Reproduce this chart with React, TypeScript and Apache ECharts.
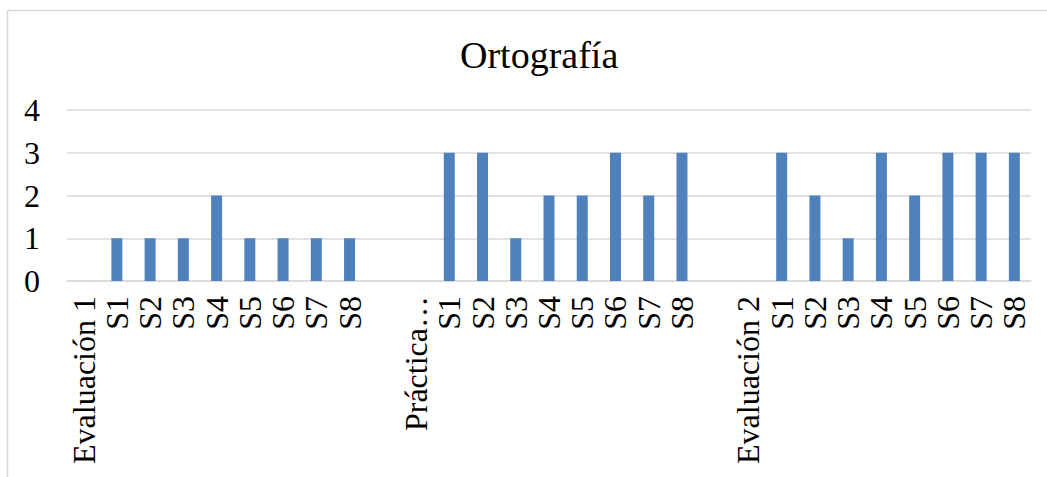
import React, { useEffect, useRef } from "react";
import * as echarts from "echarts";

const categories = [
  "Evaluación 1", "S1", "S2", "S3", "S4", "S5", "S6", "S7", "S8", "",
  "Práctica…", "S1", "S2", "S3", "S4", "S5", "S6", "S7", "S8", "",
  "Evaluación 2", "S1", "S2", "S3", "S4", "S5", "S6", "S7", "S8",
];
const values: (number | null)[] = [
  null, 1, 1, 1, 2, 1, 1, 1, 1, null,
  null, 3, 3, 1, 2, 2, 3, 2, 3, null,
  null, 3, 2, 1, 3, 2, 3, 3, 3,
];
const yTicks = [0, 1, 2, 3, 4];
const title = "Ortografía";

export default function App() {
  const ref = useRef<HTMLDivElement>(null);
  useEffect(() => {
    if (!ref.current) return;
    const chart = echarts.init(ref.current, null, { renderer: "svg" });
    const font = "'Liberation Serif', 'Times New Roman', serif";
    chart.setOption({
      animation: false,
      backgroundColor: "#fff",
      title: {
        text: title,
        left: 455,
        top: 31,
        textStyle: { fontFamily: font, fontSize: 38, fontWeight: "normal", color: "#000" },
      },
      graphic: [
        { type: "line", shape: { x1: 7.5, y1: 10.5, x2: 1047, y2: 10.5 }, style: { stroke: "#d9d9d9", lineWidth: 1.5 } },
        { type: "line", shape: { x1: 7.5, y1: 10.5, x2: 7.5, y2: 477 }, style: { stroke: "#d9d9d9", lineWidth: 1.5 } },
      ],
      grid: { left: 67, right: 16, top: 110, height: 171, containLabel: false },
      xAxis: {
        type: "category",
        data: categories,
        axisLine: { lineStyle: { color: "#d9d9d9", width: 1.5 } },
        axisTick: { show: false },
        axisLabel: {
          interval: 0,
          rotate: 90,
          margin: 15,
          fontFamily: font,
          fontSize: 32,
          color: "#000",
        },
      },
      yAxis: {
        type: "value",
        min: yTicks[0],
        max: yTicks[yTicks.length - 1],
        interval: 1,
        axisLine: { show: false },
        axisTick: { show: false },
        splitLine: { lineStyle: { color: "#d9d9d9", width: 1.5 } },
        axisLabel: { margin: 27, fontFamily: font, fontSize: 32, color: "#000" },
      },
      series: [
        {
          type: "bar",
          data: values,
          barWidth: 11,
          itemStyle: { color: "#4f81bd" },
        },
      ],
    });
    return () => chart.dispose();
  }, []);
  return (
    <div style={{ position: "absolute", left: 0, top: 0, width: 1047, height: 477 }}>
      <div ref={ref} style={{ width: 1047, height: 477 }} />
    </div>
  );
}
